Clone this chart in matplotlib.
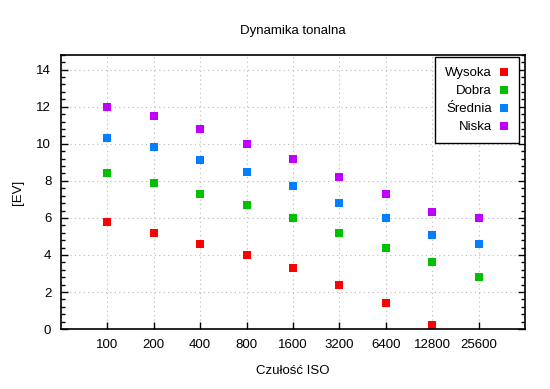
import numpy as np
import matplotlib
matplotlib.use("Agg")
import matplotlib.pyplot as plt
from matplotlib.ticker import MultipleLocator

plt.rcParams['font.family'] = ['Liberation Sans', 'DejaVu Sans']

# data
iso_labels = ["100", "200", "400", "800", "1600", "3200", "6400", "12800", "25600"]
wysoka = [5.8, 5.2, 4.6, 4.0, 3.3, 2.4, 1.4, 0.2, np.nan]
dobra = [8.4, 7.9, 7.3, 6.7, 6.0, 5.2, 4.4, 3.6, 2.8]
srednia = [10.3, 9.8, 9.1, 8.5, 7.7, 6.8, 6.0, 5.1, 4.6]
niska = [12.0, 11.5, 10.8, 10.0, 9.2, 8.2, 7.3, 6.3, 6.0]

series_names = ["Wysoka", "Dobra", "Średnia", "Niska"]
series_colors = ["#ff0000", "#00c000", "#0080ff", "#c000ff"]

x = np.arange(1, len(iso_labels) + 1)

fig = plt.figure(figsize=(5.5, 3.89), dpi=100)
ax = fig.add_axes([0.111, 0.154, 0.8435, 0.705])

for vals, name, col in zip([wysoka, dobra, srednia, niska], series_names, series_colors):
    ax.plot(x, vals, linestyle='none', marker='s', markersize=5.6,
            color=col, markeredgewidth=0, label=name)

ax.set_xlim(0, 10)
ax.set_ylim(0, 14.8)
ax.set_xticks(x)
ax.set_xticklabels(iso_labels)
ax.yaxis.set_major_locator(MultipleLocator(2))
ax.yaxis.set_minor_locator(MultipleLocator(0.4))

fs = 9.5
ax.tick_params(axis='both', which='both', direction='in', labelsize=fs,
               top=True, right=True, width=1, color='black')
ax.tick_params(axis='both', which='major', length=5, pad=7)
ax.tick_params(axis='both', which='minor', length=3)
ax.tick_params(axis='x', which='major', top=False)

for sp in ax.spines.values():
    sp.set_linewidth(1.2)

ax.grid(True, which='major', linestyle=(0, (1, 3)), color='#b8b8b8', linewidth=0.8)

ax.set_title("Dynamika tonalna", fontsize=fs, pad=15)
ax.set_xlabel("Czułość ISO", fontsize=fs, labelpad=10)
ax.set_ylabel("[EV]", fontsize=fs, labelpad=9)

leg = ax.legend(loc='upper right', markerfirst=False, fontsize=fs,
                fancybox=False, edgecolor='black', framealpha=1,
                handletextpad=0.5, borderaxespad=0.2, labelspacing=0.45,
                handlelength=0.8, borderpad=0.75, bbox_to_anchor=(0.993, 1.0))
leg.get_frame().set_linewidth(1.0)
for t in leg.get_texts():
    t.set_ha('right')
for vp in leg._legend_handle_box.get_children():
    for c in vp.get_children():
        c.align = 'right'

fig.savefig("out.png", dpi=100)
